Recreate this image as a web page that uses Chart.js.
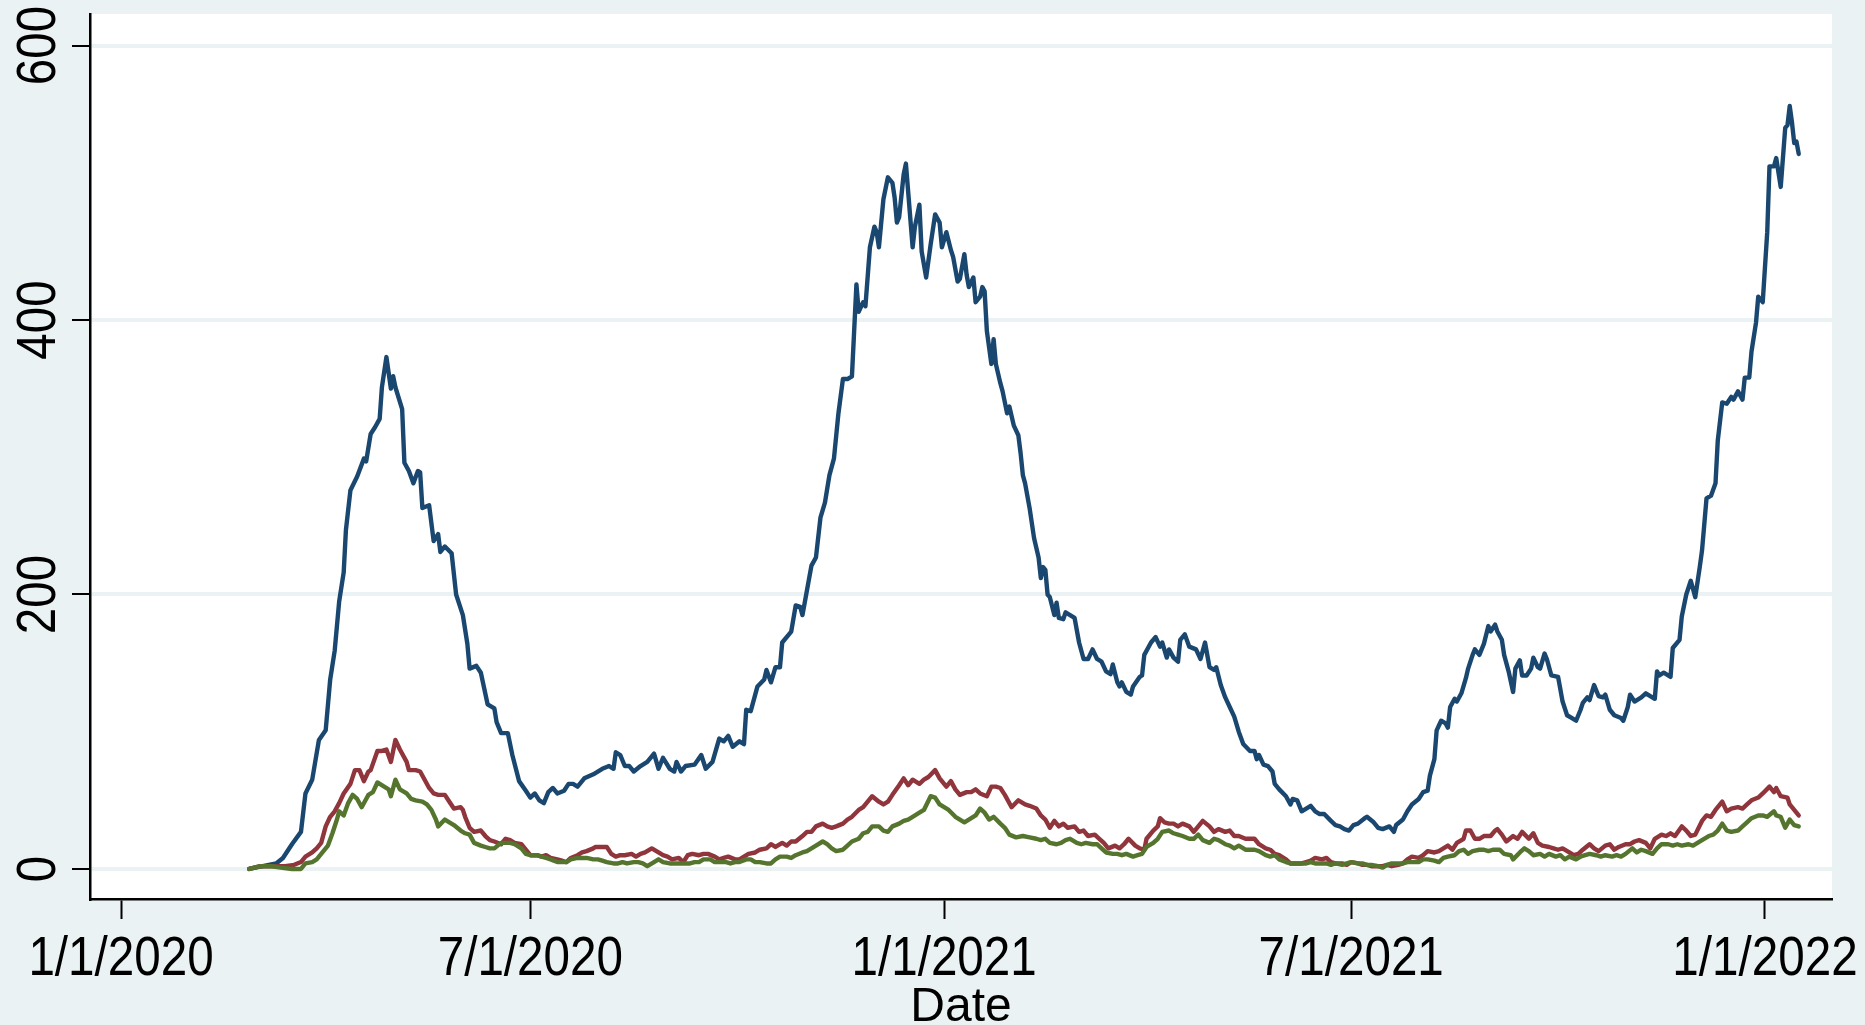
<!DOCTYPE html>
<html>
<head>
<meta charset="utf-8">
<script src="https://cdn.jsdelivr.net/npm/chart.js@4.4.1/dist/chart.umd.min.js"></script>
<style>
  html, body { margin: 0; padding: 0; background: #eaf2f3; }
  #chart { display: block; }
</style>
</head>
<body>
<canvas id="chart" width="1865" height="1025"></canvas>
<script>
/* ── data: x = days since 1/1/2020, y = value ─────────────── */

const X_TICK_DAYS   = [0, 182, 366, 547, 731];
const X_TICK_LABELS = ['1/1/2020', '7/1/2020', '1/1/2021', '7/1/2021', '1/1/2022'];
const Y_TICKS       = [0, 200, 400, 600];

const navyPoints = [
  [57,0],[69,4],[72,8],[76,18],[80,27],[82,55],[85,65],[88,94],[91,101],[93,138],[95,159],[97,195],
  [99,216],[100,247],[102,276],[105,286],[108,299],[109,297],[111,317],[113,322],[115,328],[116,351],
  [118,373],[120,350],[121,359],[122,351],[125,335],[126,296],[128,290],[130,281],[132,290],[133,289],
  [134,263],[137,265],[139,239],[141,244],[142,231],[144,235],[147,230],[149,200],[152,185],[154,164],
  [155,146],[158,148],[160,143],[163,120],[166,117],[167,107],[169,99],[172,99],[174,83],[177,64],
  [180,57],[182,52],[184,55],[186,50],[188,48],[190,56],[192,59],[194,55],[197,57],[199,62],[201,62],
  [203,60],[206,66],[210,69],[214,73],[217,75],[219,73],[220,85],[222,83],[224,75],[226,75],[228,71],
  [231,75],[234,78],[237,84],[239,73],[241,81],[244,73],[246,71],[247,78],[249,71],[251,75],[255,76],
  [258,83],[260,73],[263,78],[266,95],[268,93],[270,97],[272,89],[275,93],[277,91],[278,116],[280,115],
  [283,133],[286,138],[287,145],[289,136],[291,147],[293,147],[294,165],[297,171],[298,173],[300,192],
  [302,191],[303,185],[305,203],[307,221],[309,227],[311,256],[313,267],[315,287],[317,299],[319,332],
  [321,357],[323,357],[325,359],[327,426],[328,406],[330,413],[331,410],[333,453],[335,468],[336,464],
  [337,453],[339,488],[341,504],[343,500],[344,489],[345,471],[346,475],[348,506],[349,514],[352,453],
  [353,468],[355,484],[356,450],[358,431],[360,455],[362,477],[364,471],[365,453],[367,464],[369,451],
  [370,446],[372,428],[373,430],[375,448],[376,433],[377,424],[379,431],[380,413],[382,417],[383,424],
  [384,421],[385,392],[387,368],[388,386],[389,368],[391,354],[392,348],[394,332],[395,337],[397,323],
  [399,316],[400,303],[401,287],[402,281],[404,263],[406,241],[408,227],[409,212],[410,220],[411,218],
  [412,200],[413,198],[415,185],[416,194],[417,183],[419,182],[420,187],[422,185],[424,183],[426,165],
  [428,153],[430,153],[432,160],[434,153],[436,151],[438,144],[440,142],[441,149],[443,136],[444,133],
  [445,136],[447,129],[449,127],[450,133],[453,140],[454,141],[455,156],[458,165],[460,169],[462,162],
  [463,165],[465,154],[466,160],[468,154],[470,151],[471,167],[473,171],[475,162],[478,160],[480,153],
  [482,165],[484,147],[486,145],[487,147],[489,134],[491,125],[493,118],[495,111],[497,100],[499,91],
  [502,86],[504,86],[505,80],[506,83],[508,76],[510,75],[512,71],[513,62],[515,58],[518,53],[520,47],
  [521,51],[523,50],[525,42],[527,44],[529,46],[531,42],[533,40],[535,40],[538,35],[540,32],[542,31],
  [544,29],[546,28],[548,32],[550,33],[553,37],[554,38],[557,34],[559,30],[561,29],[564,31],[566,27],
  [567,32],[570,36],[572,42],[574,47],[577,51],[579,56],[581,57],[582,68],[584,80],[585,101],[587,108],
  [589,106],[590,103],[591,118],[593,124],[594,122],[596,128],[598,139],[599,146],[601,156],[602,160],
  [604,156],[606,164],[608,177],[609,173],[611,178],[612,173],[614,167],[615,156],[617,144],[619,129],
  [620,146],[622,152],[623,141],[625,141],[627,146],[628,154],[630,147],[631,146],[633,157],[634,153],
  [636,141],[639,140],[640,131],[641,122],[643,112],[645,110],[647,108],[649,116],[650,121],[652,125],
  [653,123],[655,134],[657,126],[659,125],[660,127],[662,116],[664,112],[667,110],[668,108],[670,118],
  [671,127],[673,122],[676,125],[678,128],[680,126],[682,124],[683,144],[684,141],[686,143],[689,140],
  [690,161],[693,167],[694,184],[696,200],[698,210],[700,198],[702,220],[703,232],[705,270],[707,272],
  [709,281],[710,312],[712,340],[714,339],[716,344],[717,342],[719,348],[721,342],[722,358],[724,358],
  [725,377],[727,398],[728,417],[730,413],[732,464],[733,512],[735,512],[736,518],[738,497],[740,540],
  [741,542],[742,556],[743,544],[744,529],[745,530],[746,521]
];

const maroonPoints = [
  [57,0],[62,2],[69,2],[73,2],[77,3],[80,5],[82,9],[85,12],[87,15],[89,19],[91,31],[93,38],[95,42],
  [97,48],[99,55],[102,62],[104,72],[106,72],[108,64],[110,71],[111,72],[114,86],[116,86],[118,87],
  [120,78],[122,94],[124,87],[127,78],[128,72],[131,72],[133,71],[135,65],[137,59],[139,55],[141,54],
  [144,54],[146,49],[148,44],[151,45],[152,43],[153,38],[155,30],[157,27],[160,28],[162,24],[164,21],
  [166,20],[169,18],[171,22],[173,21],[175,19],[178,18],[180,14],[182,10],[185,10],[187,9],[189,10],
  [191,8],[194,7],[196,6],[198,5],[200,8],[203,10],[205,12],[207,13],[210,15],[211,16],[214,16],
  [216,16],[218,11],[220,9],[222,10],[224,10],[227,11],[229,9],[231,11],[233,12],[236,15],[239,12],
  [241,10],[243,9],[245,7],[248,8],[250,5],[252,10],[254,11],[257,10],[259,11],[261,11],[264,9],
  [266,7],[268,8],[270,9],[273,7],[275,7],[277,9],[279,11],[282,12],[284,14],[287,15],[289,18],
  [291,16],[294,19],[296,17],[298,20],[300,20],[303,24],[305,27],[307,27],[309,31],[312,33],[314,31],
  [316,30],[318,31],[321,33],[323,36],[325,38],[328,43],[330,45],[332,49],[334,53],[337,49],[339,47],
  [341,49],[343,54],[346,61],[348,66],[350,61],[352,65],[355,62],[357,65],[359,67],[362,72],[364,66],
  [367,60],[369,64],[371,58],[373,54],[376,56],[378,56],[380,58],[382,55],[385,53],[387,60],[389,60],
  [391,59],[393,54],[396,45],[399,50],[402,47],[404,46],[407,44],[409,39],[411,36],[413,30],[415,35],
  [417,31],[419,33],[421,30],[424,31],[426,27],[428,28],[430,24],[433,25],[435,22],[437,19],[439,15],
  [442,17],[444,15],[446,18],[448,22],[451,17],[453,15],[455,14],[456,22],[459,28],[461,31],[462,37],
  [464,34],[466,33],[468,33],[470,31],[472,33],[475,31],[477,27],[479,31],[481,35],[484,31],[486,27],
  [488,29],[491,27],[493,28],[495,24],[497,24],[500,22],[502,22],[504,22],[506,18],[509,15],[511,14],
  [513,11],[515,10],[518,7],[520,4],[522,4],[525,4],[527,5],[529,6],[531,8],[534,7],[536,8],[538,5],
  [540,4],[543,4],[545,3],[547,5],[550,4],[552,3],[554,3],[556,2],[559,2],[561,2],[563,3],[565,2],
  [568,3],[570,4],[572,7],[574,9],[577,8],[579,10],[581,13],[584,12],[586,13],[588,15],[590,17],
  [592,14],[594,19],[597,22],[598,28],[600,28],[602,22],[604,22],[606,24],[609,24],[611,28],[612,29],
  [614,25],[616,20],[619,24],[621,22],[623,27],[626,22],[628,26],[630,19],[632,17],[635,16],[637,15],
  [639,14],[641,15],[644,12],[646,10],[648,11],[650,14],[653,18],[655,15],[657,13],[660,17],[662,18],
  [664,14],[666,16],[669,18],[671,18],[673,20],[675,21],[678,19],[680,15],[682,22],[685,25],[687,24],
  [689,26],[691,24],[694,31],[696,28],[698,24],[700,25],[703,35],[705,39],[707,38],[709,43],[712,49],
  [714,42],[716,44],[719,45],[721,44],[723,47],[725,50],[728,52],[730,55],[733,60],[735,56],[736,59],
  [738,53],[741,52],[742,47],[744,43],[746,39]
];

const greenPoints = [
  [57,0],[62,2],[67,2],[71,1],[76,0],[80,0],[82,4],[85,5],[87,7],[89,11],[92,17],[94,26],[96,36],
  [97,42],[99,39],[101,48],[103,54],[105,51],[107,45],[109,51],[110,54],[112,56],[114,63],[117,60],
  [119,58],[120,53],[122,65],[124,58],[127,55],[129,51],[131,50],[134,49],[136,47],[138,43],[140,36],
  [141,31],[144,36],[146,34],[148,32],[151,28],[153,26],[155,25],[157,19],[160,17],[162,16],[164,15],
  [166,15],[169,19],[171,19],[173,19],[175,18],[178,15],[180,11],[182,10],[185,10],[187,9],[189,8],
  [191,7],[194,5],[196,5],[198,5],[200,7],[203,8],[205,8],[207,8],[210,7],[212,7],[214,6],[216,5],
  [219,4],[221,4],[223,5],[225,4],[228,5],[230,5],[232,4],[234,2],[237,5],[239,7],[241,5],[244,4],
  [246,4],[248,4],[250,4],[253,4],[255,5],[257,5],[259,7],[262,7],[264,5],[266,5],[269,5],[271,4],
  [273,5],[275,5],[278,7],[280,7],[282,5],[284,5],[287,4],[289,4],[291,7],[293,9],[296,9],[298,8],
  [300,10],[303,12],[305,13],[307,15],[309,17],[312,20],[314,18],[316,15],[318,13],[321,14],[323,17],
  [325,20],[328,22],[330,26],[332,27],[334,31],[337,31],[339,28],[341,27],[343,31],[346,33],[348,35],
  [350,36],[352,38],[355,41],[357,43],[360,53],[362,52],[364,47],[366,45],[368,43],[371,38],[373,36],
  [375,34],[377,36],[380,39],[382,44],[384,41],[386,36],[388,38],[391,33],[393,30],[395,25],[398,23],
  [401,24],[404,23],[407,22],[409,21],[411,22],[413,19],[416,18],[418,19],[420,21],[422,22],[425,19],
  [427,18],[429,19],[432,18],[434,18],[436,15],[438,12],[441,11],[443,11],[445,10],[447,11],[450,9],
  [452,10],[454,11],[456,16],[459,19],[461,22],[463,27],[466,28],[468,26],[470,25],[472,24],[475,22],
  [477,22],[479,25],[481,21],[484,19],[486,22],[488,21],[491,18],[493,17],[495,15],[497,17],[500,14],
  [502,14],[504,14],[506,13],[509,10],[511,9],[513,10],[515,7],[518,5],[520,4],[522,4],[525,4],[527,4],
  [529,5],[531,4],[534,4],[536,4],[538,3],[540,4],[543,3],[545,4],[547,5],[550,4],[552,4],[554,3],
  [556,3],[559,2],[561,1],[563,3],[565,4],[568,4],[570,4],[572,5],[574,5],[577,5],[579,7],[581,7],
  [584,6],[586,5],[588,8],[590,9],[593,10],[595,13],[597,14],[599,11],[601,13],[604,14],[606,14],
  [608,13],[610,14],[613,14],[615,11],[618,10],[619,7],[622,12],[624,15],[626,13],[628,10],[631,11],
  [633,9],[635,11],[638,9],[640,10],[642,7],[644,9],[647,7],[649,9],[651,10],[653,11],[656,10],[658,9],
  [660,10],[663,9],[665,10],[667,9],[669,11],[672,15],[674,12],[676,14],[678,13],[681,11],[683,15],
  [685,18],[688,18],[690,17],[692,18],[694,17],[697,18],[699,17],[701,19],[703,21],[706,24],[708,25],
  [710,28],[712,33],[714,28],[716,27],[719,28],[721,31],[723,34],[725,37],[728,39],[730,39],[732,38],
  [735,42],[736,39],[738,38],[740,30],[742,36],[744,32],[746,31]
];

/* ── style ─────────────────────────────────────────────────── */

const COLORS = {
  navy:   '#1a476f',
  maroon: '#90353b',
  green:  '#55752f',
  bg:     '#eaf2f3',
  grid:   '#eaf2f3',
  axis:   '#000000',
};
const FONT_FAMILY = "'Liberation Sans', Arial, sans-serif";

const toXY = pts => pts.map(p => ({ x: p[0], y: p[1] }));

function lineDataset(points, color, order) {
  return {
    data: toXY(points),
    borderColor: color,
    borderWidth: 4.4,
    pointRadius: 0,
    tension: 0,
    fill: false,
    order,
    borderJoinStyle: 'round',
    borderCapStyle: 'round',
  };
}

// page + plot region backgrounds
const backgroundPlugin = {
  id: 'bg',
  beforeDraw(chart) {
    const { ctx, chartArea: a } = chart;
    ctx.save();
    ctx.fillStyle = COLORS.bg;
    ctx.fillRect(0, 0, chart.width, chart.height);
    ctx.fillStyle = '#ffffff';
    ctx.fillRect(a.left, a.top, a.right - a.left, a.bottom - a.top);
    ctx.restore();
  },
};

// tick labels: y rotated (reading upward), both in a condensed face — neither is
// something Chart.js tick options can do, so draw them at the scales' tick pixels
const tickLabelPlugin = {
  id: 'tickLabels',
  afterDraw(chart) {
    const { ctx } = chart;
    const { x, y } = chart.scales;
    ctx.save();
    ctx.fillStyle = COLORS.axis;
    ctx.textAlign = 'center';
    ctx.textBaseline = 'alphabetic';
    ctx.font = `56px ${FONT_FAMILY}`;

    Y_TICKS.forEach(v => {
      ctx.save();
      ctx.translate(55, y.getPixelForValue(v));
      ctx.rotate(-Math.PI / 2);
      ctx.scale(0.85, 1);
      ctx.fillText(String(v), 0, 0);
      ctx.restore();
    });

    X_TICK_DAYS.forEach((d, i) => {
      ctx.save();
      ctx.translate(x.getPixelForValue(d), 975);
      ctx.scale(0.85, 1);
      ctx.fillText(X_TICK_LABELS[i], 0, 0);
      ctx.restore();
    });
    ctx.restore();
  },
};

new Chart(document.getElementById('chart'), {
  type: 'line',
  data: {
    datasets: [
      lineDataset(navyPoints,   COLORS.navy,   2),
      lineDataset(maroonPoints, COLORS.maroon, 1),
      lineDataset(greenPoints,  COLORS.green,  0),
    ],
  },
  options: {
    responsive: false,
    animation: false,
    devicePixelRatio: 1,
    layout: { padding: { top: 14, right: 33, bottom: 0, left: 0 } },
    plugins: {
      legend: { display: false },
      tooltip: { enabled: false },
    },
    scales: {
      x: {
        type: 'linear',
        min: -13.8,
        max: 760.8,
        afterBuildTicks: s => { s.ticks = X_TICK_DAYS.map(v => ({ value: v })); },
        afterFit: s => { s.height = 126; },
        ticks: { display: false },
        grid: {
          drawOnChartArea: false,
          drawTicks: true,
          tickLength: 20,
          tickWidth: 2,
          tickColor: COLORS.axis,
        },
        border: { display: true, color: COLORS.axis, width: 2.5 },
        title: {
          display: true,
          text: 'Date',
          color: COLORS.axis,
          font: { family: FONT_FAMILY, size: 48, lineHeight: 0.7 },
          padding: { top: 0, bottom: 0 },
        },
      },
      y: {
        min: -21.9,
        max: 623,
        afterBuildTicks: s => { s.ticks = Y_TICKS.map(v => ({ value: v })); },
        afterFit: s => { s.width = 90; },
        ticks: { display: false },
        grid: {
          color: COLORS.grid,
          lineWidth: 4,
          drawTicks: true,
          tickLength: 18,
          tickWidth: 2,
          tickColor: COLORS.axis,
        },
        border: { display: true, color: COLORS.axis, width: 2.5 },
      },
    },
  },
  plugins: [backgroundPlugin, tickLabelPlugin],
});
</script>
</body>
</html>
